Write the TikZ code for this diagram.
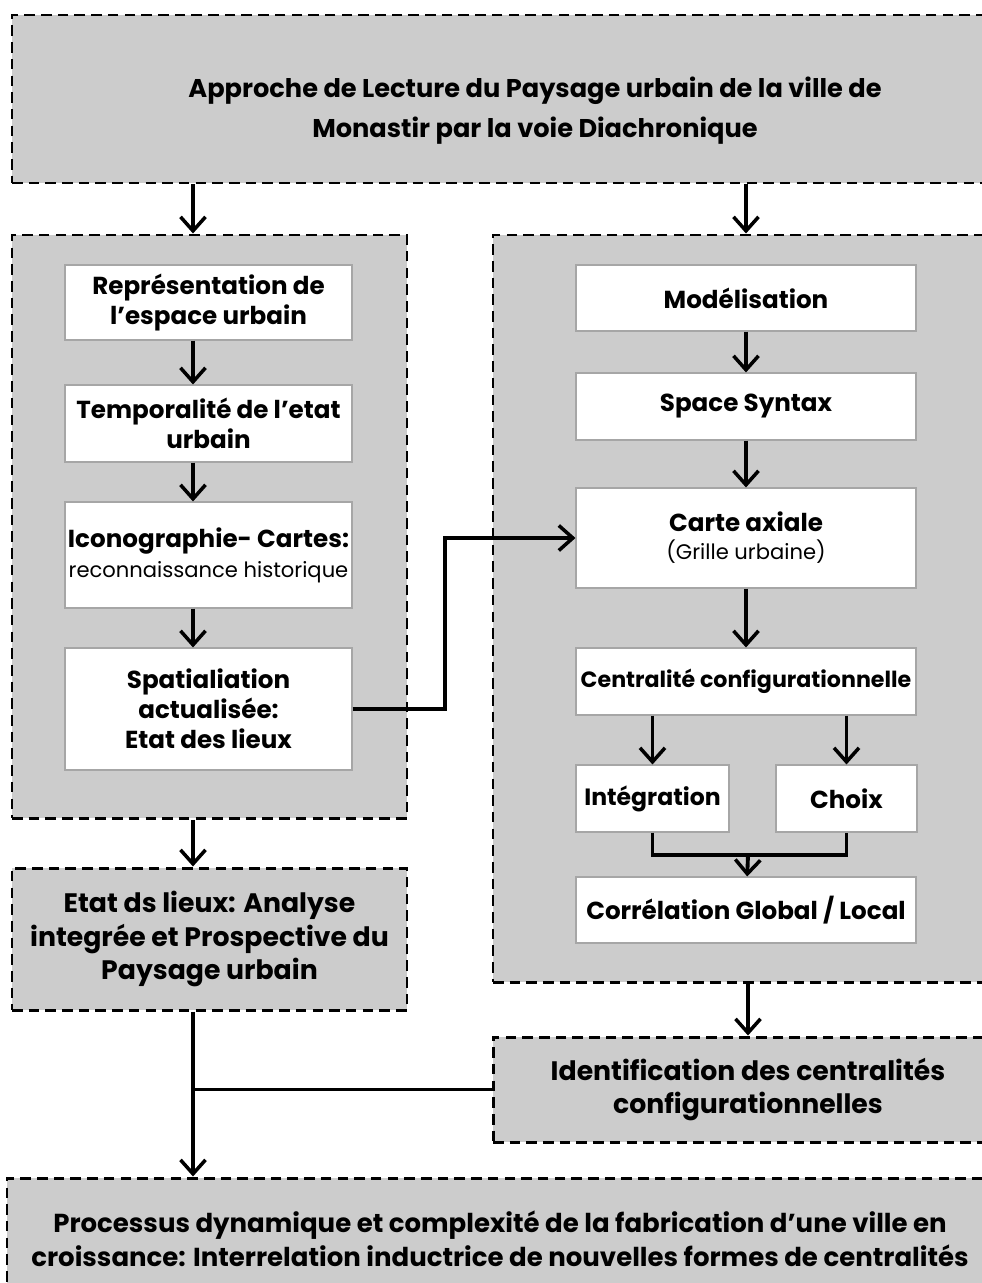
\documentclass[tikz,border=0pt]{standalone}
\usepackage{fontspec}
\setmainfont{Poppins}
\usetikzlibrary{arrows.meta,positioning}
\definecolor{panelgrey}{HTML}{CCCCCC}
\definecolor{boxedge}{HTML}{A6A6A6}
\tikzset{
  panelnode/.style={draw=black,line width=1.7pt,dash pattern=on 6pt off 3.5pt,fill=panelgrey,align=center,inner sep=0pt,font=\bfseries\fontsize{15.2}{19.3}\selectfont},
  stepnode/.style={draw=boxedge,line width=0.6pt,fill=white,align=center,inner sep=0pt,font=\bfseries\fontsize{14}{17}\selectfont},
  arrow/.style={-{Straight Barb[length=2.8mm,width=5mm,line width=2pt]},line width=2.2pt},
  link/.style={line width=2.2pt}
}

\begin{document}
\begin{tikzpicture}
\useasboundingbox (0,0) rectangle (19.64,-25.66);

\node[panelnode,minimum width=20.92cm,minimum height=3.36cm] (top) at (10.70,-1.98) {};
\node[align=center,inner sep=0pt,font=\bfseries\fontsize{14.6}{22.7}\selectfont] (title) at (10.70,-2.22)
  {Approche de Lecture du Paysage urbain de la ville de\\Monastir par la voie Diachronique};

\node[panelnode,minimum width=7.90cm,minimum height=11.66cm] (lpanel) at (4.19,-10.53) {};
\node[panelnode,minimum width=10.30cm,minimum height=14.94cm] (rpanel) at (15.01,-12.17) {};

\node[stepnode,minimum width=5.74cm,minimum height=1.50cm] (rep) at (4.17,-6.05) {Représentation de\\l’espace urbain};
\node[stepnode,minimum width=5.74cm,minimum height=1.54cm] (temp) at (4.17,-8.47) {Temporalité de l’etat\\urbain};
\node[stepnode,minimum width=5.74cm,minimum height=2.12cm] (icono) at (4.17,-11.10) {Iconographie- Cartes:\\{\mdseries\fontsize{12}{17}\selectfont reconnaissance historique}};
\node[stepnode,minimum width=5.74cm,minimum height=2.44cm] (spat) at (4.17,-14.18) {Spatialiation\\actualisée:\\Etat des lieux};

\node[stepnode,minimum width=6.80cm,minimum height=1.32cm] (model) at (14.92,-5.96) {Modélisation};
\node[stepnode,minimum width=6.80cm,minimum height=1.34cm] (syntax) at (14.92,-8.13) {Space Syntax};
\node[stepnode,minimum width=6.80cm,minimum height=2.00cm,font=\bfseries\fontsize{14}{16}\selectfont] (axiale) at (14.92,-10.76) {Carte axiale\\{\mdseries\fontsize{12}{14}\selectfont(Grille urbaine)}};
\node[stepnode,minimum width=6.80cm,minimum height=1.34cm,font=\bfseries\fontsize{12.6}{17}\selectfont] (central) at (14.92,-13.63) {Centralité configurationnelle};
\node[stepnode,minimum width=3.06cm,minimum height=1.34cm,font=\bfseries\fontsize{13.4}{17}\selectfont] (integ) at (13.05,-15.97) {Intégration};
\node[stepnode,minimum width=2.82cm,minimum height=1.34cm] (choix) at (16.93,-15.97) {Choix};
\node[stepnode,minimum width=6.80cm,minimum height=1.32cm] (correl) at (14.92,-18.20) {Corrélation Global / Local};

\node[panelnode,minimum width=7.90cm,minimum height=2.84cm] (etat) at (4.19,-18.78) {Etat ds lieux: Analyse\\integrée et Prospective du\\Paysage urbain};
\node[panelnode,minimum width=10.20cm,minimum height=2.10cm] (ident) at (14.96,-21.79) {Identification des centralités\\configurationnelles};
\node[panelnode,minimum width=19.72cm,minimum height=2.44cm,font=\bfseries\fontsize{14.8}{19.3}\selectfont] (final) at (10.00,-24.78) {Processus dynamique et complexité de la fabrication d’une ville en\\croissance: Interrelation inductrice de nouvelles formes de centralités};

\coordinate (colL) at (3.86,0);
\coordinate (jog) at (8.90,0);
\coordinate (merge) at (14.96,-17.10);

\draw[arrow] (top.south -| colL) -- (lpanel.north -| colL);
\draw[arrow] (top.south -| model) -- (rpanel.north -| model);

\draw[arrow] (rep.south -| colL) -- (temp.north -| colL);
\draw[arrow] (temp.south -| colL) -- (icono.north -| colL);
\draw[arrow] (icono.south -| colL) -- (spat.north -| colL);
\draw[arrow] (spat.east) -- (spat.east -| jog) |- (axiale.west);

\draw[arrow] (model) -- (syntax);
\draw[arrow] (syntax) -- (axiale);
\draw[arrow] (axiale) -- (central);
\draw[arrow] (central.south -| integ) -- (integ);
\draw[arrow] (central.south -| choix) -- (choix);
\draw[link] (integ.south) |- (merge) -| (choix.south);
\draw[arrow] (merge) -- (correl);

\draw[arrow] (lpanel.south -| colL) -- (etat.north -| colL);
\draw[arrow] (rpanel.south -| merge) -- (ident.north -| merge);
\draw[arrow] (etat.south -| colL) -- (final.north -| colL);
\draw[link] (ident.west) -- (ident.west -| colL);
\end{tikzpicture}
\end{document}
